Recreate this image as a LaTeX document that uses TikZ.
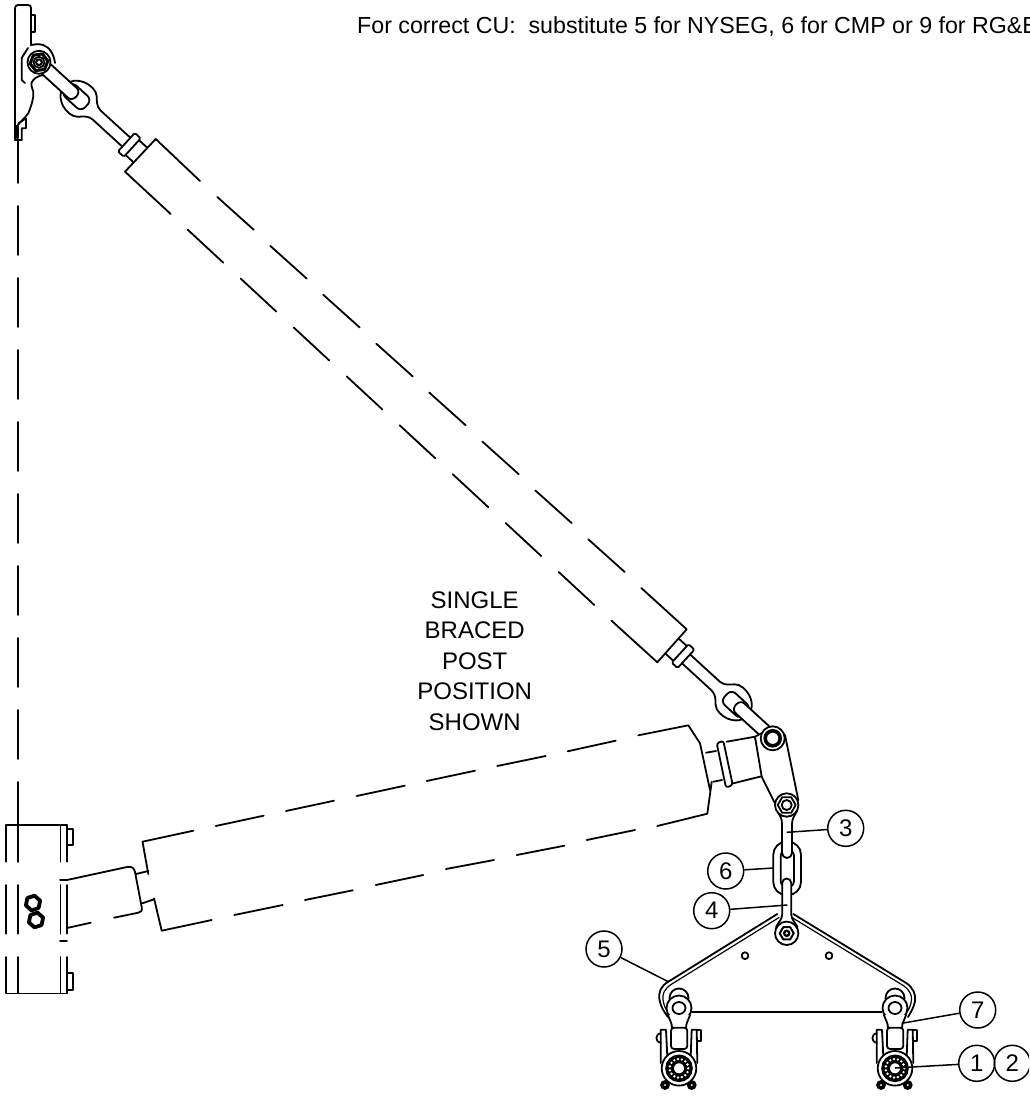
\documentclass[tikz,border=0pt]{standalone}
\usepackage{fontspec}
\setmainfont{Liberation Sans}
\usetikzlibrary{shapes.geometric}
\tikzset{
  ln/.style={line width=1.8pt,line cap=round,line join=round},
  thin ln/.style={line width=1.2pt,line cap=round,line join=round},
  heavy/.style={line width=3pt,line cap=round,line join=round},
  callout/.style={draw,circle,line width=1.5pt,minimum size=36pt,inner sep=0pt,font=\fontsize{24}{24}\selectfont},
  leader/.style={line width=1.5pt},
  hexnut/.style={regular polygon,regular polygon sides=6,draw,heavy,fill=white,inner sep=0pt},
  rodassembly/.pic={
    % neck, collar
    \draw[ln] (0,-10) -- (11,-10) (0,10) -- (11,10);
    \draw[ln,fill=white,rounded corners=1.5pt] (11,-12.5) rectangle (19,12.5);
    % rod
    \draw[ln] (19,-6) -- (62,-6) (19,6) -- (62,6);
    % eye
    \draw[ln,fill=white] (60,-6) .. controls (66,-7) and (68,-10) .. (72,-14)
      .. controls (76,-18) and (84,-18) .. (90,-16) .. controls (98,-13) and (103,-7) .. (103,0)
      .. controls (103,7) and (98,13) .. (90,16) .. controls (84,18) and (76,18) .. (72,14)
      .. controls (68,10) and (66,7) .. (60,6);
    \draw[ln,fill=white,rounded corners=6pt] (73,-8) rectangle (100,8);
    % bar to the pin
    \draw[ln,fill=white] (137,-6.5) -- (92,-6.5) .. controls (85,-6.5) and (85,6.5) .. (92,6.5) -- (137,6.5);
  },
  clamp/.pic={
    \draw[ln,fill=white] (0,-10) circle[radius=9.5];
    % bracket
    \draw[ln] (-13,21.7) -- (-18.3,21.7) -- (-18.3,55) (-13,21.7) -- (-11.7,48.3);
    \draw[ln] (12.7,21.7) -- (17.7,21.7) -- (18.3,55) (12.7,21.7) -- (11.7,48.3);
    \draw[ln] (-18.3,25) .. controls (-24,26) and (-24,34) .. (-18.3,35);
    \draw[ln] (17.7,21.7) -- (22,21.7) -- (22,33) -- (17.7,33);
    % eye and neck
    \draw[ln,fill=white] (0,0) circle[radius=12.5];
    \fill[white] (-7,21) -- (-11,7) -- (11,7) -- (7,21) -- cycle;
    \draw[ln] (-7,20) .. controls (-7,15) and (-9,13) .. (-11,7);
    \draw[ln] (7,20) .. controls (7,15) and (9,13) .. (11,7);
    \draw[ln] (0,0) ellipse[x radius=6.5,y radius=6];
    % block
    \draw[ln,fill=white,rounded corners=3pt] (-8,19.7) rectangle (8.3,41);
    % feet
    \draw[line width=3.6pt] (-14,77) circle[radius=3] (12.7,77) circle[radius=3];
    % clamp body
    \draw[ln,fill=white] (0,60.3) circle[radius=17.3];
    \draw[ln] (0,60.3) circle[radius=12.9];
    \draw[line width=6pt] (0,60.3) circle[radius=9.3];
    \foreach \ang in {0,24,...,336} { \fill[white] (0,60.3) ++(\ang:9.3) circle[radius=1.3]; }
    \draw[ln,fill=white] (0,60.3) circle[radius=6];
  },
}
\begin{document}
\begin{tikzpicture}[x=1pt,y=-1pt]
\useasboundingbox (0,0) rectangle (1029,1099);
\clip (0,0) rectangle (1029,1099);
\fill[white] (0,0) rectangle (1029,1099);

% ---------- vertical centre line
\draw[ln] (18,140) -- (18,183);
\foreach \k in {0,...,7} {
  \draw[ln] (18,{206+72*\k}) -- (18,{255+72*\k});
}
\draw[ln] (18,782) -- (18,861.7);

% ---------- top bracket
\draw[ln] (15,140) -- (15,10) .. controls (15,6) and (16,5) .. (18,5) -- (28,5) .. controls (30,5) and (31,6) .. (31,8) -- (31,45);
\draw[ln] (31,15) -- (35,15) -- (35,32) -- (31,32);
\draw[ln] (31,45) .. controls (36,44) and (40,44) .. (43,45) .. controls (50,47) and (54,55) .. (55,63);
\draw[ln] (28,48) -- (21.7,58) -- (21.7,80) -- (25,83);
\draw[ln] (43.3,75) .. controls (38,76) and (35,78) .. (33.3,80) .. controls (31,83) and (31,84) .. (31.7,86.7)
  .. controls (33,90) and (34,93) .. (33.3,96.7) .. controls (32,104) and (30,109) .. (28.3,113.3) .. controls (25,118) and (20,122) .. (16.7,126.7);
\draw[ln] (18.3,123.3) -- (26,118.3) -- (26,128.3) -- (21.7,128.3) -- (21.7,140) -- (15,140);
\draw[heavy] (17,126) -- (17,138);

% ---------- upper brace (dashed cylinder)
\draw[ln] (170.7,214) -- (125,171.7) -- (155.7,139) -- (200,181);
\foreach \k in {0,...,7} {
  \draw[ln] ({217.3+53*\k},{197+48.9*\k}) -- ({253.7+53*\k},{229.7+48.9*\k});
  \draw[ln] ({187.7+53*\k},{229.7+48.9*\k}) -- ({223.3+53*\k},{262.7+48.9*\k});
}
\draw[ln] (641.3,588) -- (686.7,629.3) -- (657.3,662.3) -- (611.3,620.5);

\pic[shift={(140.4,155)},rotate=137.6] {rodassembly};
\pic[shift={(672,646)},rotate=-42.5] {rodassembly};

% top nut
\draw[ln,fill=white] (39,62.3) circle[radius=11.5];
\node[hexnut,minimum size=18pt,rotate=8] (topnut) at (39,62.3) {};
\draw[ln,fill=white] (39,62.3) circle[radius=5.5];
\fill[black] (39,62.3) circle[radius=4];
\fill[white] (39,62.3) circle[radius=1.8];

% ---------- post insulator box
\foreach \x in {6,18,60.5,66.7} {
  \draw[ln] (\x,825) -- (\x,861.7);
  \draw[ln] (\x,885) -- (\x,933.7);
  \draw[ln] (\x,957) -- (\x,993.5);
}
\draw[ln] (6,825) -- (66.7,825);
\draw[ln] (6,993.5) -- (66.7,993.5);
\draw[ln] (60,880.3) -- (67,880.3);
\draw[ln] (60,941.3) -- (67,941.3);
\draw[ln] (66.7,829) -- (73,829) -- (73,845) -- (66.7,845);
\draw[ln] (66.7,973.3) -- (73,973.3) -- (73,990) -- (66.7,990);
\node[hexnut,minimum size=15pt,line width=3.8pt,rotate=18] (nuta) at (33,903) {};
\node[hexnut,minimum size=15pt,line width=3.8pt,rotate=18] (nutb) at (36,920) {};

% ---------- lower brace
\draw[ln] (67,880) -- (127,867) .. controls (132,866) and (134,868) .. (135,872) -- (141.7,907) .. controls (142.5,911) and (141,912) .. (138.3,912.7) -- (114,917.7);
\draw[ln] (90.7,922.7) -- (67,928);
\draw[ln] (136,874) -- (148.3,871);
\draw[ln] (142.3,903.3) -- (154,899.3);
\draw[ln] (148.3,874) -- (142.5,841.7) -- (193.3,830.7);
\draw[ln] (154,898.3) -- (161.7,930.7) -- (211.7,920);
\foreach \a/\b/\c/\d in {215.7/826/263.7/815.7, 286/811/334/800.7, 356.7/796/404.7/785.7, 426.7/781/475/770.7, 497.3/766/545.7/756, 567.7/751.3/615.7/740.7,
  635/830/586.7/840, 564.3/845.7/516.7/855, 494/860/446/869, 423.3/875/375.7/885, 352.7/890.3/305/900, 282.7/905/234.3/915} {
  \draw[ln] (\a,\b) -- (\c,\d);
}
\draw[ln] (638.3,735.3) -- (688.3,725.3) -- (700,743.3) -- (710,790);
\draw[ln] (711.7,781.7) -- (707.3,813.7) -- (657.3,826);
\draw[ln] (706,752.7) -- (716,751);
\draw[ln] (713.3,781.7) -- (722,780);
% barrel and collar
\draw[ln] (726.7,741.7) -- (755,736.7) -- (762.7,776) -- (733.3,783.3);
\draw[ln,fill=white,rounded corners=2.5pt] (716.7,743.3) -- (723.3,740.7) -- (732.7,785) -- (726,787.7) -- cycle;

% plate between the pins
\draw[ln,fill=white] (755,736.7) -- (762,733) -- (785,735) -- (798.3,800) -- (786,812) -- (776.7,806.7) -- (761.7,776.7) -- cycle;
\draw[ln,fill=white] (772.7,738.3) circle[radius=12];
\draw[line width=3.6pt] (772.7,738.3) circle[radius=7.5];
\fill[white] (772.7,738.3) circle[radius=3];

% ---------- link 6 with links 3 and 4
\draw[ln,fill=white,rounded corners=13pt] (773.3,841.7) rectangle (801,895);
\draw[ln,fill=white,rounded corners=6pt] (780.7,850) rectangle (794,887);
\draw[ln,fill=white] (778,812) .. controls (780,816) and (782,818) .. (782,824) -- (782,853) arc[start angle=180,end angle=360,x radius=5,y radius=-5] -- (792,824) .. controls (792,818) and (795,815) .. (797,811) -- cycle;
\draw[ln,fill=white] (786.7,805) circle[radius=11.7];
\node[hexnut,minimum size=18pt,line width=1.8pt] (midnut) at (786.7,805) {};
\draw[ln] (786.7,805) circle[radius=5];
\fill[white] (786.7,805) circle[radius=1.8];

% ---------- yoke plate
\draw[ln] (777.3,914) -- (668.3,981.7) .. controls (661,986) and (658,992) .. (659.5,1000) .. controls (660.5,1006) and (664,1012) .. (668,1017);
\draw[thin ln] (779,917.5) -- (671,984.5) .. controls (664.5,989) and (662,994) .. (663,1000) .. controls (664,1005) and (665,1008) .. (667,1011);
\draw[ln] (793.3,914) -- (906.7,983.3) .. controls (913,988) and (916,994) .. (915,1001) .. controls (914,1007) and (911,1012) .. (908,1017);
\draw[thin ln] (792,917.5) -- (904,986) .. controls (909.5,990) and (912,995) .. (911.5,1000) .. controls (911,1005) and (909,1009) .. (907,1012);
\draw[ln] (691.7,1012.3) -- (881.7,1012.3);
\draw[ln] (745,955.7) circle[radius=3.4] (829,955.7) circle[radius=3.4];

% link 4 and its eye
\draw[ln,fill=white] (776,927) .. controls (779,921) and (782,920) .. (782.2,914) -- (782.2,883) arc[start angle=180,end angle=0,x radius=4.5,y radius=-4.5] -- (791.2,914) .. controls (791.4,920) and (795,922) .. (797.5,927);
\draw[ln,fill=white] (786.7,933.3) circle[radius=11.7];
\node[hexnut,minimum size=14pt,line width=2pt] (lownut) at (786.7,933.3) {};
\fill[black] (786.7,933.3) circle[radius=3.8];
\fill[white] (786.7,933.3) circle[radius=1.4];

% ---------- clamps
\pic at (679,1008) {clamp};
\pic at (895,1008) {clamp};

% ---------- texts
\node[anchor=base west,inner sep=0pt,font=\fontsize{23.2}{23.2}\selectfont] (note) at (357,33.5) {For correct CU:\ \ substitute 5 for NYSEG, 6 for CMP or 9 for RG\&E};
\node[align=center,inner sep=0pt,font=\fontsize{24}{30.5}\selectfont] (pos) at (474.7,661) {SINGLE\\BRACED\\POST\\POSITION\\SHOWN};

% ---------- callouts
\coordinate (t3) at (786.7,832.3);
\coordinate (t6) at (773.3,868);
\coordinate (t4) at (787.3,905);
\coordinate (t5) at (668.3,981.7);
\coordinate (t7) at (901.7,1023.3);
\coordinate (t1) at (895,1068);
\node[callout] (c3) at (845.7,828.3) {3};
\node[callout] (c6) at (725.7,871) {6};
\node[callout] (c4) at (711.7,910.7) {4};
\node[callout] (c5) at (604,949) {5};
\node[callout] (c7) at (977.7,1010) {7};
\node[callout] (c1) at (976.7,1063.3) {1};
\node[callout] (c2) at (1012.3,1063.3) {2};
\draw[leader] (c3) -- (t3);
\draw[leader] (c6) -- (t6);
\draw[leader] (c4) -- (t4);
\draw[leader] (c5) -- (t5);
\draw[leader] (c7) -- (t7);
\draw[leader] (c1) -- (t1);
\end{tikzpicture}
\end{document}
